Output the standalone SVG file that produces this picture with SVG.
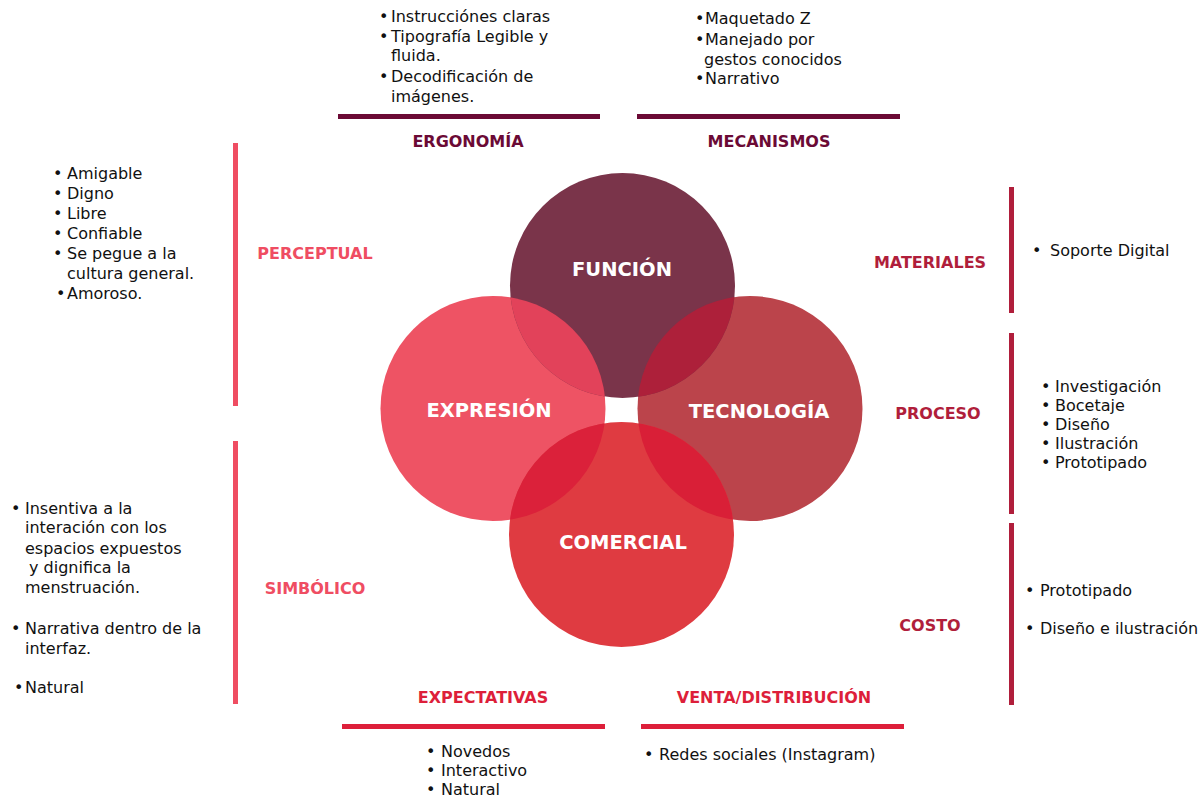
<svg xmlns="http://www.w3.org/2000/svg" width="1203" height="799" viewBox="0 0 1203 799">
<style>
.body{font-family:"DejaVu Sans","Open Sans",sans-serif;font-size:16px;fill:#111}
.lbl{font-family:"DejaVu Sans","Open Sans",sans-serif;font-size:16px;font-weight:bold;text-anchor:middle}
.cl{font-family:"DejaVu Sans","Open Sans",sans-serif;font-size:19.5px;font-weight:bold;fill:#fff;text-anchor:middle}
.top{fill:#6b0a35}
.left{fill:#ef4d62}
.right{fill:#b01e3b}
.bot{fill:#dd1f3a}
</style>
<defs>
<clipPath id="cF"><circle cx="622.5" cy="285.5" r="112.5"/></clipPath>
<clipPath id="cC"><circle cx="621.5" cy="534.5" r="112.5"/></clipPath>
</defs>
<g id="connectors">
<rect class="top" x="338" y="114" width="262" height="5"/>
<rect class="top" x="637" y="114" width="263" height="5"/>
<rect class="left" x="233" y="143" width="5" height="263"/>
<rect class="left" x="233" y="441" width="5" height="263"/>
<rect class="right" x="1009" y="187" width="5" height="126"/>
<rect class="right" x="1009" y="333" width="5" height="181"/>
<rect class="right" x="1009" y="523" width="5" height="182"/>
<rect class="bot" x="342" y="724" width="263" height="5"/>
<rect class="bot" x="641" y="724" width="263" height="5"/>
</g>
<g id="circles">
<circle id="expresion-c" cx="493" cy="408.5" r="112.5" fill="#ee5364"/>
<circle id="tecnologia-c" cx="750" cy="408.5" r="112.5" fill="#bb444b"/>
<circle id="funcion-c" cx="622.5" cy="285.5" r="112.5" fill="#7a344a"/>
<circle id="comercial-c" cx="621.5" cy="534.5" r="112.5" fill="#df3b41"/>
<circle cx="493" cy="408.5" r="112.5" fill="#e2425a" clip-path="url(#cF)"/>
<circle cx="750" cy="408.5" r="112.5" fill="#ad203a" clip-path="url(#cF)"/>
<circle cx="493" cy="408.5" r="112.5" fill="#db213a" clip-path="url(#cC)"/>
<circle cx="750" cy="408.5" r="112.5" fill="#d91f37" clip-path="url(#cC)"/>
</g>
<g id="funcion"><text class="cl" x="622" y="276">FUNCIÓN</text></g>
<g id="expresion"><text class="cl" x="489" y="417">EXPRESIÓN</text></g>
<g id="tecnologia"><text class="cl" x="759" y="418">TECNOLOGÍA</text></g>
<g id="comercial"><text class="cl" x="623" y="549">COMERCIAL</text></g>
<g id="ergonomia">
<text class="lbl top" x="468" y="147">ERGONOMÍA</text>
<text class="body" y="22"><tspan x="379">•</tspan><tspan x="391">Instrucciónes claras</tspan></text>
<text class="body" y="42"><tspan x="379">•</tspan><tspan x="391">Tipografía Legible y</tspan></text>
<text class="body" x="391" y="61">fluida.</text>
<text class="body" y="82"><tspan x="379">•</tspan><tspan x="391">Decodificación de</tspan></text>
<text class="body" x="391" y="102">imágenes.</text>
</g>
<g id="mecanismos">
<text class="lbl top" x="769" y="147">MECANISMOS</text>
<text class="body" y="24"><tspan x="695">•</tspan><tspan x="705">Maquetado Z</tspan></text>
<text class="body" y="45"><tspan x="695">•</tspan><tspan x="705">Manejado por</tspan></text>
<text class="body" x="704" y="65">gestos conocidos</text>
<text class="body" y="84"><tspan x="695">•</tspan><tspan x="705">Narrativo</tspan></text>
</g>
<g id="perceptual">
<text class="lbl left" x="315" y="259">PERCEPTUAL</text>
<text class="body" y="179"><tspan x="53">•</tspan><tspan x="67">Amigable</tspan></text>
<text class="body" y="199"><tspan x="53">•</tspan><tspan x="67">Digno</tspan></text>
<text class="body" y="219"><tspan x="53">•</tspan><tspan x="67">Libre</tspan></text>
<text class="body" y="239"><tspan x="53">•</tspan><tspan x="67">Confiable</tspan></text>
<text class="body" y="259"><tspan x="53">•</tspan><tspan x="67">Se pegue a la</tspan></text>
<text class="body" x="67" y="279">cultura general.</text>
<text class="body" y="299"><tspan x="56">•</tspan><tspan x="67">Amoroso.</tspan></text>
</g>
<g id="simbolico">
<text class="lbl left" x="315" y="594">SIMBÓLICO</text>
<text class="body" y="514"><tspan x="11">•</tspan><tspan x="25">Insentiva a la</tspan></text>
<text class="body" x="25" y="533">interación con los</text>
<text class="body" x="25" y="554">espacios expuestos</text>
<text class="body" x="29" y="573">y dignifica la</text>
<text class="body" x="25" y="593">menstruación.</text>
<text class="body" y="634"><tspan x="11">•</tspan><tspan x="25">Narrativa dentro de la</tspan></text>
<text class="body" x="25" y="654">interfaz.</text>
<text class="body" y="693"><tspan x="14">•</tspan><tspan x="25">Natural</tspan></text>
</g>
<g id="materiales">
<text class="lbl right" x="930" y="268">MATERIALES</text>
<text class="body" y="256"><tspan x="1032">•</tspan><tspan x="1050">Soporte Digital</tspan></text>
</g>
<g id="proceso">
<text class="lbl right" x="938" y="419">PROCESO</text>
<text class="body" y="392"><tspan x="1041">•</tspan><tspan x="1055">Investigación</tspan></text>
<text class="body" y="411"><tspan x="1041">•</tspan><tspan x="1055">Bocetaje</tspan></text>
<text class="body" y="430"><tspan x="1041">•</tspan><tspan x="1055">Diseño</tspan></text>
<text class="body" y="449"><tspan x="1041">•</tspan><tspan x="1055">Ilustración</tspan></text>
<text class="body" y="468"><tspan x="1041">•</tspan><tspan x="1055">Prototipado</tspan></text>
</g>
<g id="costo">
<text class="lbl right" x="930" y="631">COSTO</text>
<text class="body" y="596"><tspan x="1025">•</tspan><tspan x="1040">Prototipado</tspan></text>
<text class="body" y="634"><tspan x="1025">•</tspan><tspan x="1040">Diseño e ilustración</tspan></text>
</g>
<g id="expectativas">
<text class="lbl bot" x="483" y="703">EXPECTATIVAS</text>
<text class="body" y="757"><tspan x="426">•</tspan><tspan x="441">Novedos</tspan></text>
<text class="body" y="776"><tspan x="426">•</tspan><tspan x="441">Interactivo</tspan></text>
<text class="body" y="795"><tspan x="426">•</tspan><tspan x="441">Natural</tspan></text>
</g>
<g id="venta">
<text class="lbl bot" x="774" y="703">VENTA/DISTRIBUCIÓN</text>
<text class="body" y="760"><tspan x="644">•</tspan><tspan x="659">Redes sociales (Instagram)</tspan></text>
</g>
</svg>
